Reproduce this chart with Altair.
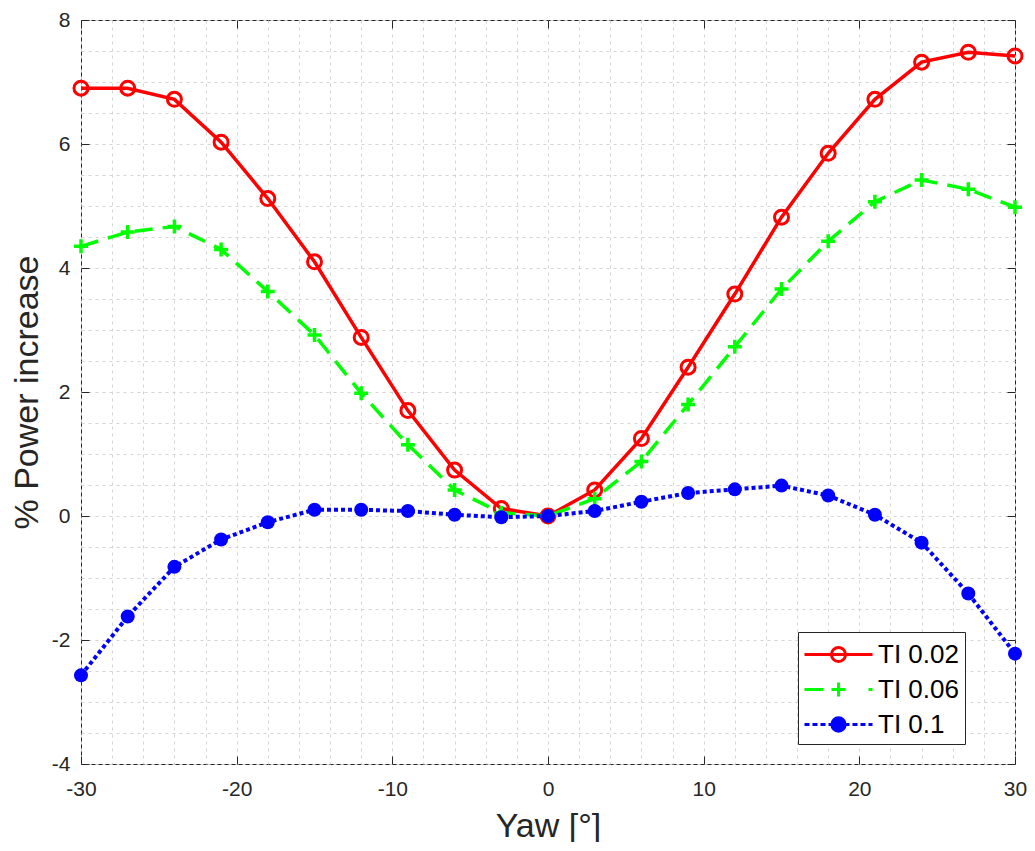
import altair as alt
import pandas as pd

yaw = [-30, -27, -24, -21, -18, -15, -12, -9, -6, -3, 0, 3, 6, 9, 12, 15, 18, 21, 24, 27, 30]
ti_002 = [6.9, 6.9, 6.72, 6.03, 5.12, 4.1, 2.88, 1.7, 0.74, 0.12, 0.0, 0.42, 1.25, 2.4, 3.58, 4.82, 5.85, 6.72, 7.32, 7.48, 7.42]
ti_006 = [4.35, 4.58, 4.67, 4.3, 3.62, 2.92, 1.98, 1.15, 0.42, 0.05, 0.0, 0.28, 0.88, 1.8, 2.73, 3.66, 4.43, 5.07, 5.42, 5.27, 4.98]
ti_01 = [-2.57, -1.62, -0.82, -0.38, -0.1, 0.1, 0.1, 0.08, 0.02, -0.02, 0.0, 0.08, 0.23, 0.37, 0.43, 0.49, 0.33, 0.02, -0.43, -1.25, -2.22]
series_names = ["TI 0.02", "TI 0.06", "TI 0.1"]
series_colors = ["#FF0000", "#00FF00", "#0000FF"]

x_major = [-30, -20, -10, 0, 10, 20, 30]
x_minor = list(range(-30, 31, 2))
y_major = [-4, -2, 0, 2, 4, 6, 8]
y_minor = [v / 2 for v in range(-8, 17)]

W, H = 934, 744
FONT = "Liberation Sans"
TXT = "#262626"

rows = []
for name, vals in zip(series_names, [ti_002, ti_006, ti_01]):
    for xv, yv in zip(yaw, vals):
        rows.append({"yaw": xv, "value": yv, "series": name})
df = pd.DataFrame(rows)

xs = alt.Scale(domain=[-30, 30], nice=False, zero=False)
ys = alt.Scale(domain=[-4, 8], nice=False, zero=False)

base = alt.Chart(df)


def noaxis_enc():
    return dict(
        x=alt.X("yaw:Q", scale=xs, axis=None),
        y=alt.Y("value:Q", scale=ys, axis=None),
    )


# main axes: grid + labels + titles
main_axes = base.mark_point(opacity=0).encode(
    x=alt.X("yaw:Q", scale=xs, axis=alt.Axis(
        orient="bottom", values=x_minor, grid=True, gridDash=[3, 4], gridColor="#d4d4d4",
        gridWidth=1, ticks=False, tickSize=0, domain=False,
        labelExpr="datum.value % 10 == 0 ? '' + datum.value : ''",
        labelFont=FONT, labelFontSize=21, labelColor=TXT, labelPadding=14,
        labelFlush=False, labelOverlap=False,
        title="Yaw [°]", titleFont=FONT, titleFontSize=34, titleFontWeight="normal",
        titleColor=TXT, titlePadding=10)),
    y=alt.Y("value:Q", scale=ys, axis=alt.Axis(
        orient="left", values=y_minor, grid=True, gridDash=[3, 4], gridColor="#d4d4d4",
        gridWidth=1, ticks=False, tickSize=0, domain=False,
        labelExpr="datum.value % 2 == 0 ? '' + datum.value : ''",
        labelFont=FONT, labelFontSize=21, labelColor=TXT, labelPadding=11,
        labelFlush=False, labelOverlap=False,
        title="% Power increase", titleFont=FONT, titleFontSize=34, titleFontWeight="normal",
        titleColor=TXT, titlePadding=7)),
)

# inward ticks on bottom and left edges
ticks_a = base.mark_point(opacity=0).encode(
    x=alt.X("yaw:Q", scale=xs, axis=alt.Axis(
        orient="top", offset=-H, values=x_major, labels=False, domain=False, grid=False,
        ticks=True, tickSize=8, tickColor=TXT, tickWidth=1, title=None)),
    y=alt.Y("value:Q", scale=ys, axis=alt.Axis(
        orient="right", offset=-W, values=y_major, labels=False, domain=False, grid=False,
        ticks=True, tickSize=8, tickColor=TXT, tickWidth=1, title=None)),
)
# inward ticks on top and right edges
ticks_b = base.mark_point(opacity=0).encode(
    x=alt.X("yaw:Q", scale=xs, axis=alt.Axis(
        orient="bottom", offset=-H, values=x_major, labels=False, domain=False, grid=False,
        ticks=True, tickSize=8, tickColor=TXT, tickWidth=1, title=None)),
    y=alt.Y("value:Q", scale=ys, axis=alt.Axis(
        orient="left", offset=-W, values=y_major, labels=False, domain=False, grid=False,
        ticks=True, tickSize=8, tickColor=TXT, tickWidth=1, title=None)),
)


def flt(name):
    return base.transform_filter(alt.datum.series == name)


red_line = flt("TI 0.02").mark_line(color="#FF0000", strokeWidth=3.5).encode(**noaxis_enc())
red_pts = flt("TI 0.02").mark_point(shape="circle", filled=False, color="#FF0000",
                                    size=196, strokeWidth=3, opacity=1).encode(**noaxis_enc())
green_line = flt("TI 0.06").mark_line(color="#00FF00", strokeWidth=3.5,
                                      strokeDash=[18, 10]).encode(**noaxis_enc())
green_pts = flt("TI 0.06").mark_point(shape="M-1,0H1M0,-1V1", filled=False, color="#00FF00",
                                      size=196, strokeWidth=3.5, opacity=1).encode(**noaxis_enc())
blue_line = flt("TI 0.1").mark_line(color="#0000FF", strokeWidth=4,
                                    strokeDash=[4, 3]).encode(**noaxis_enc())
blue_pts = flt("TI 0.1").mark_circle(color="#0000FF", size=196, opacity=1).encode(**noaxis_enc())

# legend symbols: line + marker paths (unit = 15px for symbolSize 900), shifted right
U = 15.0
L = 34 / U
R = 7 / U
D = 18 / U


def circ(r, c):
    return (f"M{c - r:.3f},0A{r:.3f},{r:.3f} 0 1,1 {c + r:.3f},0"
            f"A{r:.3f},{r:.3f} 0 1,1 {c - r:.3f},0")


red_sym = f"M{D - L:.3f},0H{D + L:.3f}" + circ(R, D)
green_sym = (f"M{D - L:.3f},0H{D - L + 19 / U:.3f}"
             f"M{D - R:.3f},0H{D + R:.3f}M{D:.3f},{-R:.3f}V{R:.3f}"
             f"M{D + L - 4 / U:.3f},0H{D + L:.3f}")
segs = []
p = -L
while p < L:
    e = min(p + 5 / U, L)
    segs.append(f"M{D + p:.3f},0H{D + e:.3f}")
    p += 8 / U
blue_sym = "".join(segs) + circ(R * 0.95, D)

leg_df = pd.DataFrame({"series": series_names})
legend = alt.Legend(
    title=None, orient="none", legendX=717, legendY=612,
    fillColor="white", strokeColor=TXT, padding=6,
    labelFont=FONT, labelFontSize=26, labelColor="#000000", labelOffset=41,
    symbolSize=900, symbolStrokeWidth=3, rowPadding=5, symbolOpacity=1,
)
legend_layer = alt.Chart(leg_df).mark_point(clip=True, filled=False).encode(
    x=alt.value(-200), y=alt.value(-200),
    shape=alt.Shape("series:N", scale=alt.Scale(domain=series_names,
                                                range=[red_sym, green_sym, blue_sym]), legend=legend),
    stroke=alt.Stroke("series:N", scale=alt.Scale(domain=series_names, range=series_colors),
                      legend=legend),
    fill=alt.Fill("series:N", scale=alt.Scale(domain=series_names,
                                              range=["transparent", "transparent", "#0000FF"]),
                  legend=legend),
)

chart = alt.layer(
    main_axes, ticks_a, ticks_b,
    red_line, red_pts, green_line, green_pts, blue_line, blue_pts,
    legend_layer,
).resolve_axis(x="independent", y="independent").properties(
    width=W, height=H,
    autosize=alt.AutoSizeParams(type="none"),
    padding={"left": 73, "top": 12, "right": 12, "bottom": 78},
    background="white",
).configure_view(stroke=TXT, strokeWidth=1).configure_legend(strokeWidth=1, cornerRadius=0)

chart.save("out.html", embed_options={"renderer": "svg", "actions": False})
